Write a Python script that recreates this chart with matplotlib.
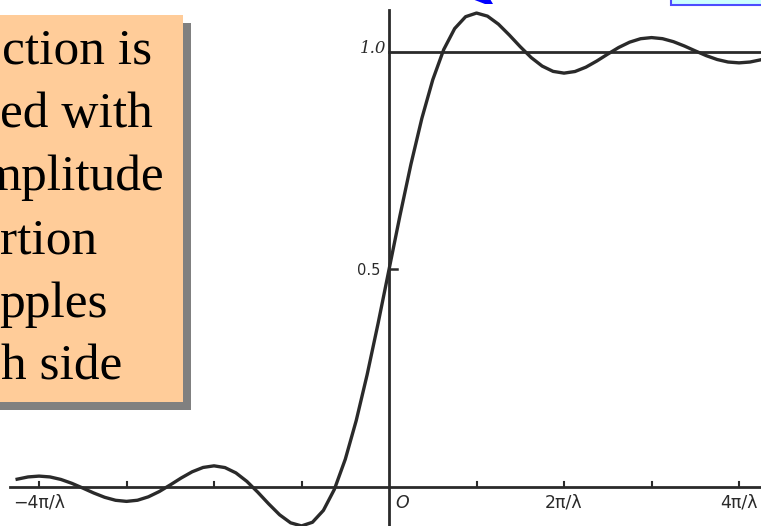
import numpy as np
import matplotlib.pyplot as plt
from matplotlib.patches import Rectangle, Polygon

# step response, x in units of pi/lambda
u = [-4.25, -4.125, -4.0, -3.875, -3.75, -3.625, -3.5, -3.375, -3.25, -3.125,
     -3.0, -2.875, -2.75, -2.625, -2.5, -2.375, -2.25, -2.125, -2.0, -1.875,
     -1.75, -1.625, -1.5, -1.375, -1.25, -1.125, -1.0, -0.875, -0.75, -0.625,
     -0.5, -0.375, -0.25, -0.125, 0.0, 0.125, 0.25, 0.375, 0.5, 0.625,
     0.75, 0.875, 1.0, 1.125, 1.25, 1.375, 1.5, 1.625, 1.75, 1.875,
     2.0, 2.125, 2.25, 2.375, 2.5, 2.625, 2.75, 2.875, 3.0, 3.125,
     3.25, 3.375, 3.5, 3.625, 3.75, 3.875, 4.0, 4.125, 4.25, 4.375]
resp = [0.0179, 0.0231, 0.0250, 0.0231, 0.0173, 0.0084, -0.0025, -0.0138, -0.0237, -0.0306,
        -0.0331, -0.0305, -0.0226, -0.0104, 0.0048, 0.0207, 0.0349, 0.0449, 0.0486, 0.0446,
        0.0324, 0.0129, -0.0120, -0.0389, -0.0640, -0.0824, -0.0895, -0.0811, -0.0538, -0.0056,
        0.0637, 0.1527, 0.2584, 0.3761, 0.5, 0.6239, 0.7416, 0.8473, 0.9363, 1.0056,
        1.0538, 1.0811, 1.0895, 1.0824, 1.0640, 1.0389, 1.0120, 0.9871, 0.9676, 0.9554,
        0.9514, 0.9551, 0.9651, 0.9793, 0.9952, 1.0104, 1.0226, 1.0305, 1.0331, 1.0306,
        1.0237, 1.0138, 1.0025, 0.9916, 0.9827, 0.9769, 0.9750, 0.9769, 0.9821, 0.9897]

x_ticks = [-4, -3, -2, -1, 1, 2, 3, 4]
x_labels = {-4: '−4π/λ', 0.15: 'O', 2: '2π/λ', 4: '4π/λ'}
box_lines = ['ction is', 'ed with', 'mplitude', 'rtion', 'pples', 'h side']
box_x = [2, 0, -18, 0, -1, 1]

W, H = 761, 526
fig = plt.figure(figsize=(W / 100, H / 100), dpi=100)
ax = fig.add_axes([0, 0, 1, 1])
ax.set_xlim(-4.446, 4.251)
ax.set_ylim(-0.0897, 1.1195)
ax.axis('off')

ink = '#2a2a2a'
ax.plot(u, resp, color=ink, lw=2.4, solid_joinstyle='round', zorder=3)
ax.plot([-4.33, 4.4], [0, 0], color=ink, lw=2.0)
ax.plot([0, 0], [-0.12, 1.097], color=ink, lw=2.0)
ax.plot([0, 4.4], [1, 1], color=ink, lw=2.0)
ax.plot([0, 0.09], [0.5, 0.5], color=ink, lw=1.8)
for t in x_ticks:
    ax.plot([t, t], [0, 0.012], color=ink, lw=1.5)

ax.text(-0.03, 1.007, '1.0', ha='right', va='center', fontsize=12,
        family='DejaVu Serif', style='italic', color=ink)
ax.text(-0.1, 0.497, '0.5', ha='right', va='center', fontsize=10.5,
        family='DejaVu Sans', color=ink)
for pos, lab in x_labels.items():
    ax.text(pos, -0.036, lab, ha='center', va='center', fontsize=12.5,
            family='DejaVu Sans', color=ink,
            style='italic' if lab == 'O' else 'normal')

def fx(x):
    return x / W

def fy(y):
    return 1 - y / H

# shadow + peach callout box
fig.patches.append(Rectangle((fx(-10), fy(410)), fx(201), 387 / H,
                             transform=fig.transFigure, facecolor='#808080',
                             edgecolor='none', zorder=1))
fig.patches.append(Rectangle((fx(-10), fy(402)), fx(193), 387 / H,
                             transform=fig.transFigure, facecolor='#ffcc99',
                             edgecolor='none', zorder=2))
for i, (line, x0) in enumerate(zip(box_lines, box_x)):
    fig.text(fx(x0), fy(64 + 63.2 * i), line, fontsize=37,
             family='Liberation Serif', va='baseline', ha='left', color='black')

# bits of other slide objects at the top
fig.patches.append(Rectangle((fx(671), fy(5)), fx(120), 20 / H,
                             transform=fig.transFigure, facecolor='#ccffff',
                             edgecolor='#4d4dff', lw=1.5))
fig.patches.append(Polygon([(fx(472), fy(-1)), (fx(490), fy(-1)), (fx(493), fy(4)),
                            (fx(485), fy(4))], closed=True,
                           transform=fig.transFigure, facecolor='#0000ff',
                           edgecolor='none'))

fig.savefig('out.png', dpi=100)
